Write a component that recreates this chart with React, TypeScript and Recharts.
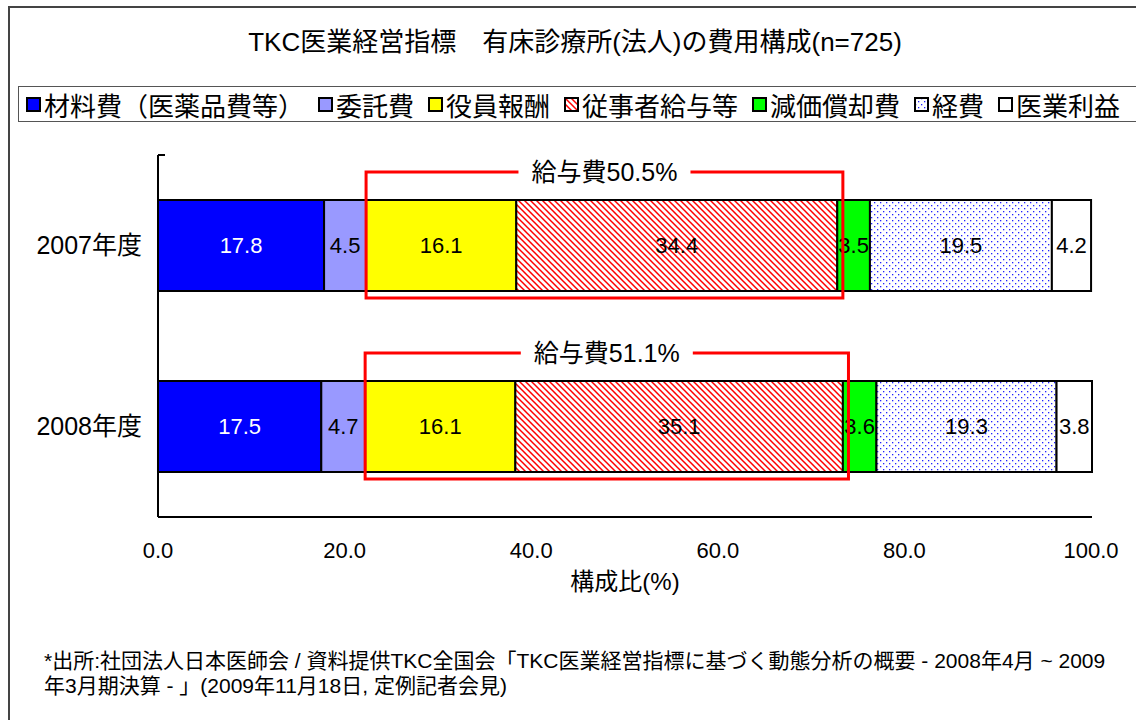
import { BarChart, Bar, XAxis, YAxis, LabelList } from "recharts";

const categories = ["2007年度", "2008年度"];
const materials = [17.8, 17.5];
const consignment = [4.5, 4.7];
const officers = [16.1, 16.1];
const staff = [34.4, 35.1];
const depreciation = [3.5, 3.6];
const expenses = [19.5, 19.3];
const profit = [4.2, 3.8];
const salaryShare = [50.5, 51.1];
const xTicks = [0, 20, 40, 60, 80, 100];

const FONT = '"Liberation Sans", "Noto Sans CJK JP", sans-serif';

const series = [
  { key: "materials", name: "材料費（医薬品費等）", values: materials, fill: "#0000FF", text: "#FFFFFF" },
  { key: "consignment", name: "委託費", values: consignment, fill: "#9999FF", text: "#000000" },
  { key: "officers", name: "役員報酬", values: officers, fill: "#FFFF00", text: "#000000" },
  { key: "staff", name: "従事者給与等", values: staff, fill: "url(#hatchRed)", text: "#000000" },
  { key: "depreciation", name: "減価償却費", values: depreciation, fill: "#00FF00", text: "#000000" },
  { key: "expenses", name: "経費", values: expenses, fill: "url(#dotsBlue)", text: "#000000" },
  { key: "profit", name: "医業利益", values: profit, fill: "#FFFFFF", text: "#000000" },
];

const data = categories.map((name, i) => {
  const row: Record<string, string | number> = { name };
  series.forEach((s) => (row[s.key] = s.values[i]));
  return row;
});

// red box around 役員報酬 + 従事者給与等, derived from the last segment's geometry
function SalaryBox(props: any) {
  const vb = props.viewBox ?? props;
  const { x, y, width, height } = vb;
  const i = props.index ?? 0;
  const ppu = width / profit[i];
  const before = materials[i] + consignment[i] + officers[i] + staff[i] + depreciation[i] + expenses[i];
  const origin = x - before * ppu;
  const left = origin + (materials[i] + consignment[i]) * ppu;
  const right = origin + (materials[i] + consignment[i] + officers[i] + staff[i] + 0.6) * ppu;
  const top = y - 28;
  const bottom = y + height + 7;
  const cx = (left + right) / 2;
  return (
    <g>
      <rect x={left} y={top} width={right - left} height={bottom - top} fill="none" stroke="#FF0000" strokeWidth={3} />
      <rect x={cx - 86} y={top - 15} width={172} height={30} fill="#FFFFFF" />
      <text x={cx} y={top} dy="0.36em" textAnchor="middle" fontSize={25} fontFamily={FONT} fill="#000">
        給与費{salaryShare[i].toFixed(1)}%
      </text>
    </g>
  );
}

function Swatch({ fill }: { fill: string }) {
  return (
    <svg width={15} height={15} style={{ display: "block" }}>
      <rect x={1} y={1} width={13} height={13} fill={fill} stroke="#000" strokeWidth={2} />
    </svg>
  );
}

export default function App() {
  return (
    <div
      style={{
        position: "absolute",
        left: 0,
        top: 0,
        width: 1136,
        height: 720,
        overflow: "hidden",
        background: "#fff",
        fontFamily: FONT,
      }}
    >
      <svg width={0} height={0} style={{ position: "absolute" }}>
        <defs>
          <pattern id="hatchRed" width={6} height={6} patternUnits="userSpaceOnUse">
            <rect width={6} height={6} fill="#FFFFFF" />
            <path d="M0,0 L6,6 M-1,5 L1,7 M5,-1 L7,1" stroke="#FF0000" strokeWidth={1.5} />
          </pattern>
          <pattern id="dotsBlue" width={6} height={6} patternUnits="userSpaceOnUse">
            <rect width={6} height={6} fill="#FFFFFF" />
            <rect x={1} y={1} width={1.3} height={1.3} fill="#2222FF" />
            <rect x={4} y={4} width={1.3} height={1.3} fill="#2222FF" />
          </pattern>
        </defs>
      </svg>

      {/* outer frame */}
      <div
        style={{
          position: "absolute",
          left: 8,
          top: 6,
          width: 1200,
          height: 800,
          borderLeft: "2px solid #444",
          borderTop: "2px solid #444",
        }}
      />

      <div
        style={{
          position: "absolute",
          left: 0,
          width: 1150,
          top: 27,
          textAlign: "center",
          fontSize: 26,
          lineHeight: "30px",
          whiteSpace: "nowrap",
        }}
      >
        TKC医業経営指標　有床診療所(法人)の費用構成(n=725)
      </div>

      {/* legend */}
      <div
        style={{
          position: "absolute",
          left: 18,
          top: 86,
          width: 1200,
          height: 34,
          border: "1px solid #555",
          display: "flex",
          alignItems: "center",
          paddingLeft: 7,
          gap: 14,
          fontSize: 26,
          whiteSpace: "nowrap",
        }}
      >
        {series.map((s) => (
          <div key={s.key} style={{ display: "flex", alignItems: "center", gap: 3 }}>
            <Swatch fill={s.fill} />
            <span>{s.name}</span>
          </div>
        ))}
      </div>

      <div style={{ position: "absolute", left: 0, top: 0 }}>
        <BarChart
          width={1136}
          height={720}
          data={data}
          layout="vertical"
          margin={{ top: 155, right: 44, bottom: 133, left: 18 }}
          barSize={91}
        >
          <XAxis
            type="number"
            domain={[0, 100]}
            ticks={xTicks}
            tickFormatter={(v: number) => v.toFixed(1)}
            tickLine={false}
            tickSize={0}
            tickMargin={25}
            axisLine={{ stroke: "#000", strokeWidth: 2 }}
            tick={{ fill: "#000", fontSize: 22, fontFamily: FONT }}
            height={70}
            label={{ value: "構成比(%)", position: "insideTop", offset: 56, fill: "#000", fontSize: 24, fontFamily: FONT }}
          />
          <XAxis
            xAxisId="frame"
            type="number"
            domain={[0, 100]}
            ticks={xTicks}
            mirror
            axisLine={false}
            tickSize={7}
            tickLine={{ stroke: "#000", strokeWidth: 2 }}
            tickFormatter={() => ""}
          />
          <YAxis
            type="category"
            dataKey="name"
            width={140}
            tickLine={false}
            tickSize={0}
            tickMargin={16}
            axisLine={{ stroke: "#000", strokeWidth: 2 }}
            tick={{ fill: "#000", fontSize: 25, fontFamily: FONT }}
          />
          <YAxis
            yAxisId="frame"
            type="number"
            domain={[0, 2]}
            ticks={[0, 1, 2]}
            mirror
            axisLine={false}
            tickSize={7}
            tickLine={{ stroke: "#000", strokeWidth: 2 }}
            tickFormatter={() => ""}
          />
          {series.map((s, idx) => (
            <Bar
              key={s.key}
              dataKey={s.key}
              name={s.name}
              stackId="a"
              fill={s.fill}
              stroke="#000"
              strokeWidth={2}
              isAnimationActive={false}
            >
              <LabelList
                dataKey={s.key}
                position="center"
                formatter={(v: any) => Number(v).toFixed(1)}
                fill={s.text}
                fontSize={22}
                fontFamily={FONT}
              />
              {idx === series.length - 1 && <LabelList dataKey={s.key} content={(p: any) => <SalaryBox {...p} />} />}
            </Bar>
          ))}
        </BarChart>
      </div>

      <div
        style={{
          position: "absolute",
          left: 44,
          top: 648,
          fontSize: 21,
          lineHeight: "25px",
          whiteSpace: "nowrap",
          color: "#000",
        }}
      >
        *出所:社団法人日本医師会 / 資料提供TKC全国会「TKC医業経営指標に基づく動態分析の概要 - 2008年4月 ~ 2009
        <br />
        年3月期決算 - 」(2009年11月18日, 定例記者会見)
      </div>
    </div>
  );
}
